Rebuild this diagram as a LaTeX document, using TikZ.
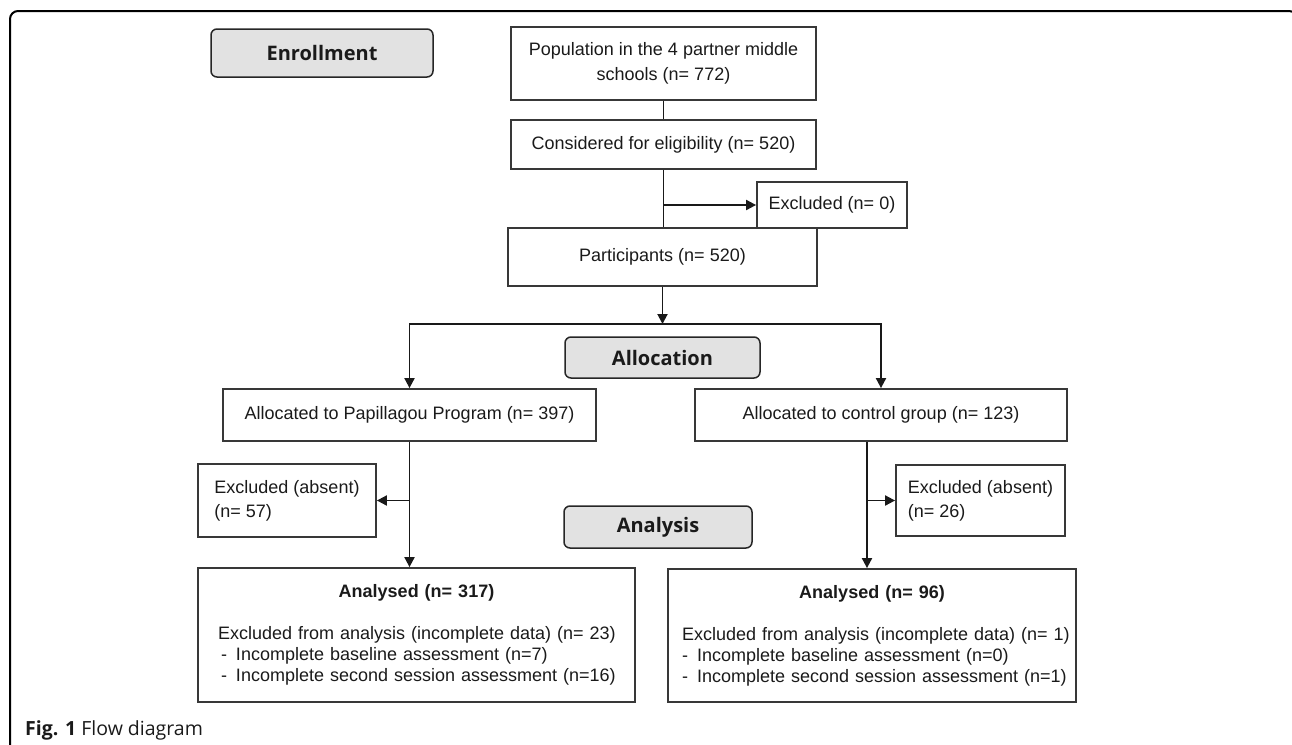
\documentclass[tikz,border=0pt]{standalone}
\usepackage{fontspec}
\setmainfont{Liberation Sans}
\newfontfamily\osans{Open Sans}
\usetikzlibrary{arrows.meta,calc}
\definecolor{boxc}{HTML}{383838}
\definecolor{stagefill}{HTML}{E2E2E2}
\definecolor{txt}{HTML}{1A1A1A}
\begin{document}
\begin{tikzpicture}[x=1pt,y=-1pt,
  box/.style={draw=boxc, line width=1.8pt, inner sep=0pt, text=txt, font=\fontsize{18}{21}\selectfont},
  stage/.style={draw=black!85, line width=1.5pt, fill=stagefill, rounded corners=6pt, inner sep=0pt, text=txt, font=\osans\bfseries\fontsize{20}{24}\selectfont},
  conn/.style={line width=1.9pt, draw=black!90},
  arr/.style={conn, -{Triangle[length=10pt,width=10pt]}}]
\useasboundingbox (0,0) rectangle (1292,744);
\draw[line width=2pt, rounded corners=8pt] (10,746) -- (10,11) -- (1297,11) -- (1297,40);

% stage labels
\node[stage, minimum width=222pt, minimum height=48pt] (enroll) at (322,53) {Enrollment};
\node[stage, minimum width=195pt, minimum height=41pt] (alloc) at (662.5,357.5) {Allocation};
\node[stage, minimum width=188pt, minimum height=42pt] (analysis) at (658,527) {Analysis};

% boxes
\node[box, minimum width=305pt, minimum height=73pt, align=center, font=\fontsize{18}{25}\selectfont] (pop) at (663.5,63.5) {Population in the 4 partner middle\\schools (n= 772)};
\node[box, minimum width=305pt, minimum height=49pt] (cons) at (663.5,144.5) {Considered for eligibility (n= 520)};
\node[box, minimum width=150pt, minimum height=46pt] (excl0) at (832,205) {Excluded (n= 0)};
\node[box, minimum width=309pt, minimum height=58pt] (part) at (662.5,257) {Participants (n= 520)};
\node[box, minimum width=373pt, minimum height=52pt] (papi) at (409.5,415) {Allocated to Papillagou Program (n= 397)};
\node[box, minimum width=372pt, minimum height=52pt] (ctrl) at (881,415) {Allocated to control group (n= 123)};
\node[box, minimum width=178pt, minimum height=73pt, align=left, font=\fontsize{18}{24}\selectfont] (exclL) at (287,500.5) {Excluded (absent)\\(n= 57)};
\node[box, minimum width=169pt, minimum height=71pt, align=left, font=\fontsize{18}{24}\selectfont] (exclR) at (980.5,500.5) {Excluded (absent)\\(n= 26)};
\node[box, minimum height=134pt, inner xsep=20pt, text width=397pt, align=left, font=\fontsize{18}{21}\selectfont] (anaL) at (416.5,635) {%
\makebox[\linewidth]{\bfseries Analysed (n= 317)}\\[21pt]
\mbox{Excluded from analysis (incomplete data) (n= 23)}\\
\mbox{\hspace{3pt}\makebox[15pt][l]{-}Incomplete baseline assessment (n=7)}\\
\mbox{\hspace{3pt}\makebox[15pt][l]{-}Incomplete second session assessment (n=16)}};
\node[box, minimum height=133pt, inner xsep=14pt, text width=380pt, align=left, font=\fontsize{18}{21}\selectfont] (anaR) at (872,635.5) {%
\makebox[\linewidth]{\bfseries Analysed (n= 96)}\\[21pt]
\mbox{Excluded from analysis (incomplete data) (n= 1)}\\
\mbox{\makebox[15pt][l]{-}Incomplete baseline assessment (n=0)}\\
\mbox{\makebox[15pt][l]{-}Incomplete second session assessment (n=1)}};

% connectors
\draw[conn] (pop.south) -- (cons.north);
\draw[conn] (cons.south) -- (cons.south |- part.north);
\coordinate (b1) at (cons.south |- excl0.west);
\draw[arr] (b1) -- (excl0.west);
\coordinate (split) at (662.5,324);
\draw[arr] (part.south) -- (split);
\draw[arr] (split) -| (papi.north);
\draw[arr] (split) -| (ctrl.north);
\draw[arr] (papi.south) -- (papi.south |- anaL.north);
\draw[arr] (papi.south |- exclL.east) -- (exclL.east);
\coordinate (cs) at ($(ctrl.south)+(-14,0)$);
\draw[arr] (cs) -- (cs |- anaR.north);
\draw[arr] (cs |- exclR.west) -- (exclR.west);

% caption
\node[anchor=base west, inner sep=0pt, text=txt, font=\osans\fontsize{19.5}{22}\selectfont] (cap) at (25,735) {\textbf{Fig. 1} Flow diagram};
\end{tikzpicture}
\end{document}
